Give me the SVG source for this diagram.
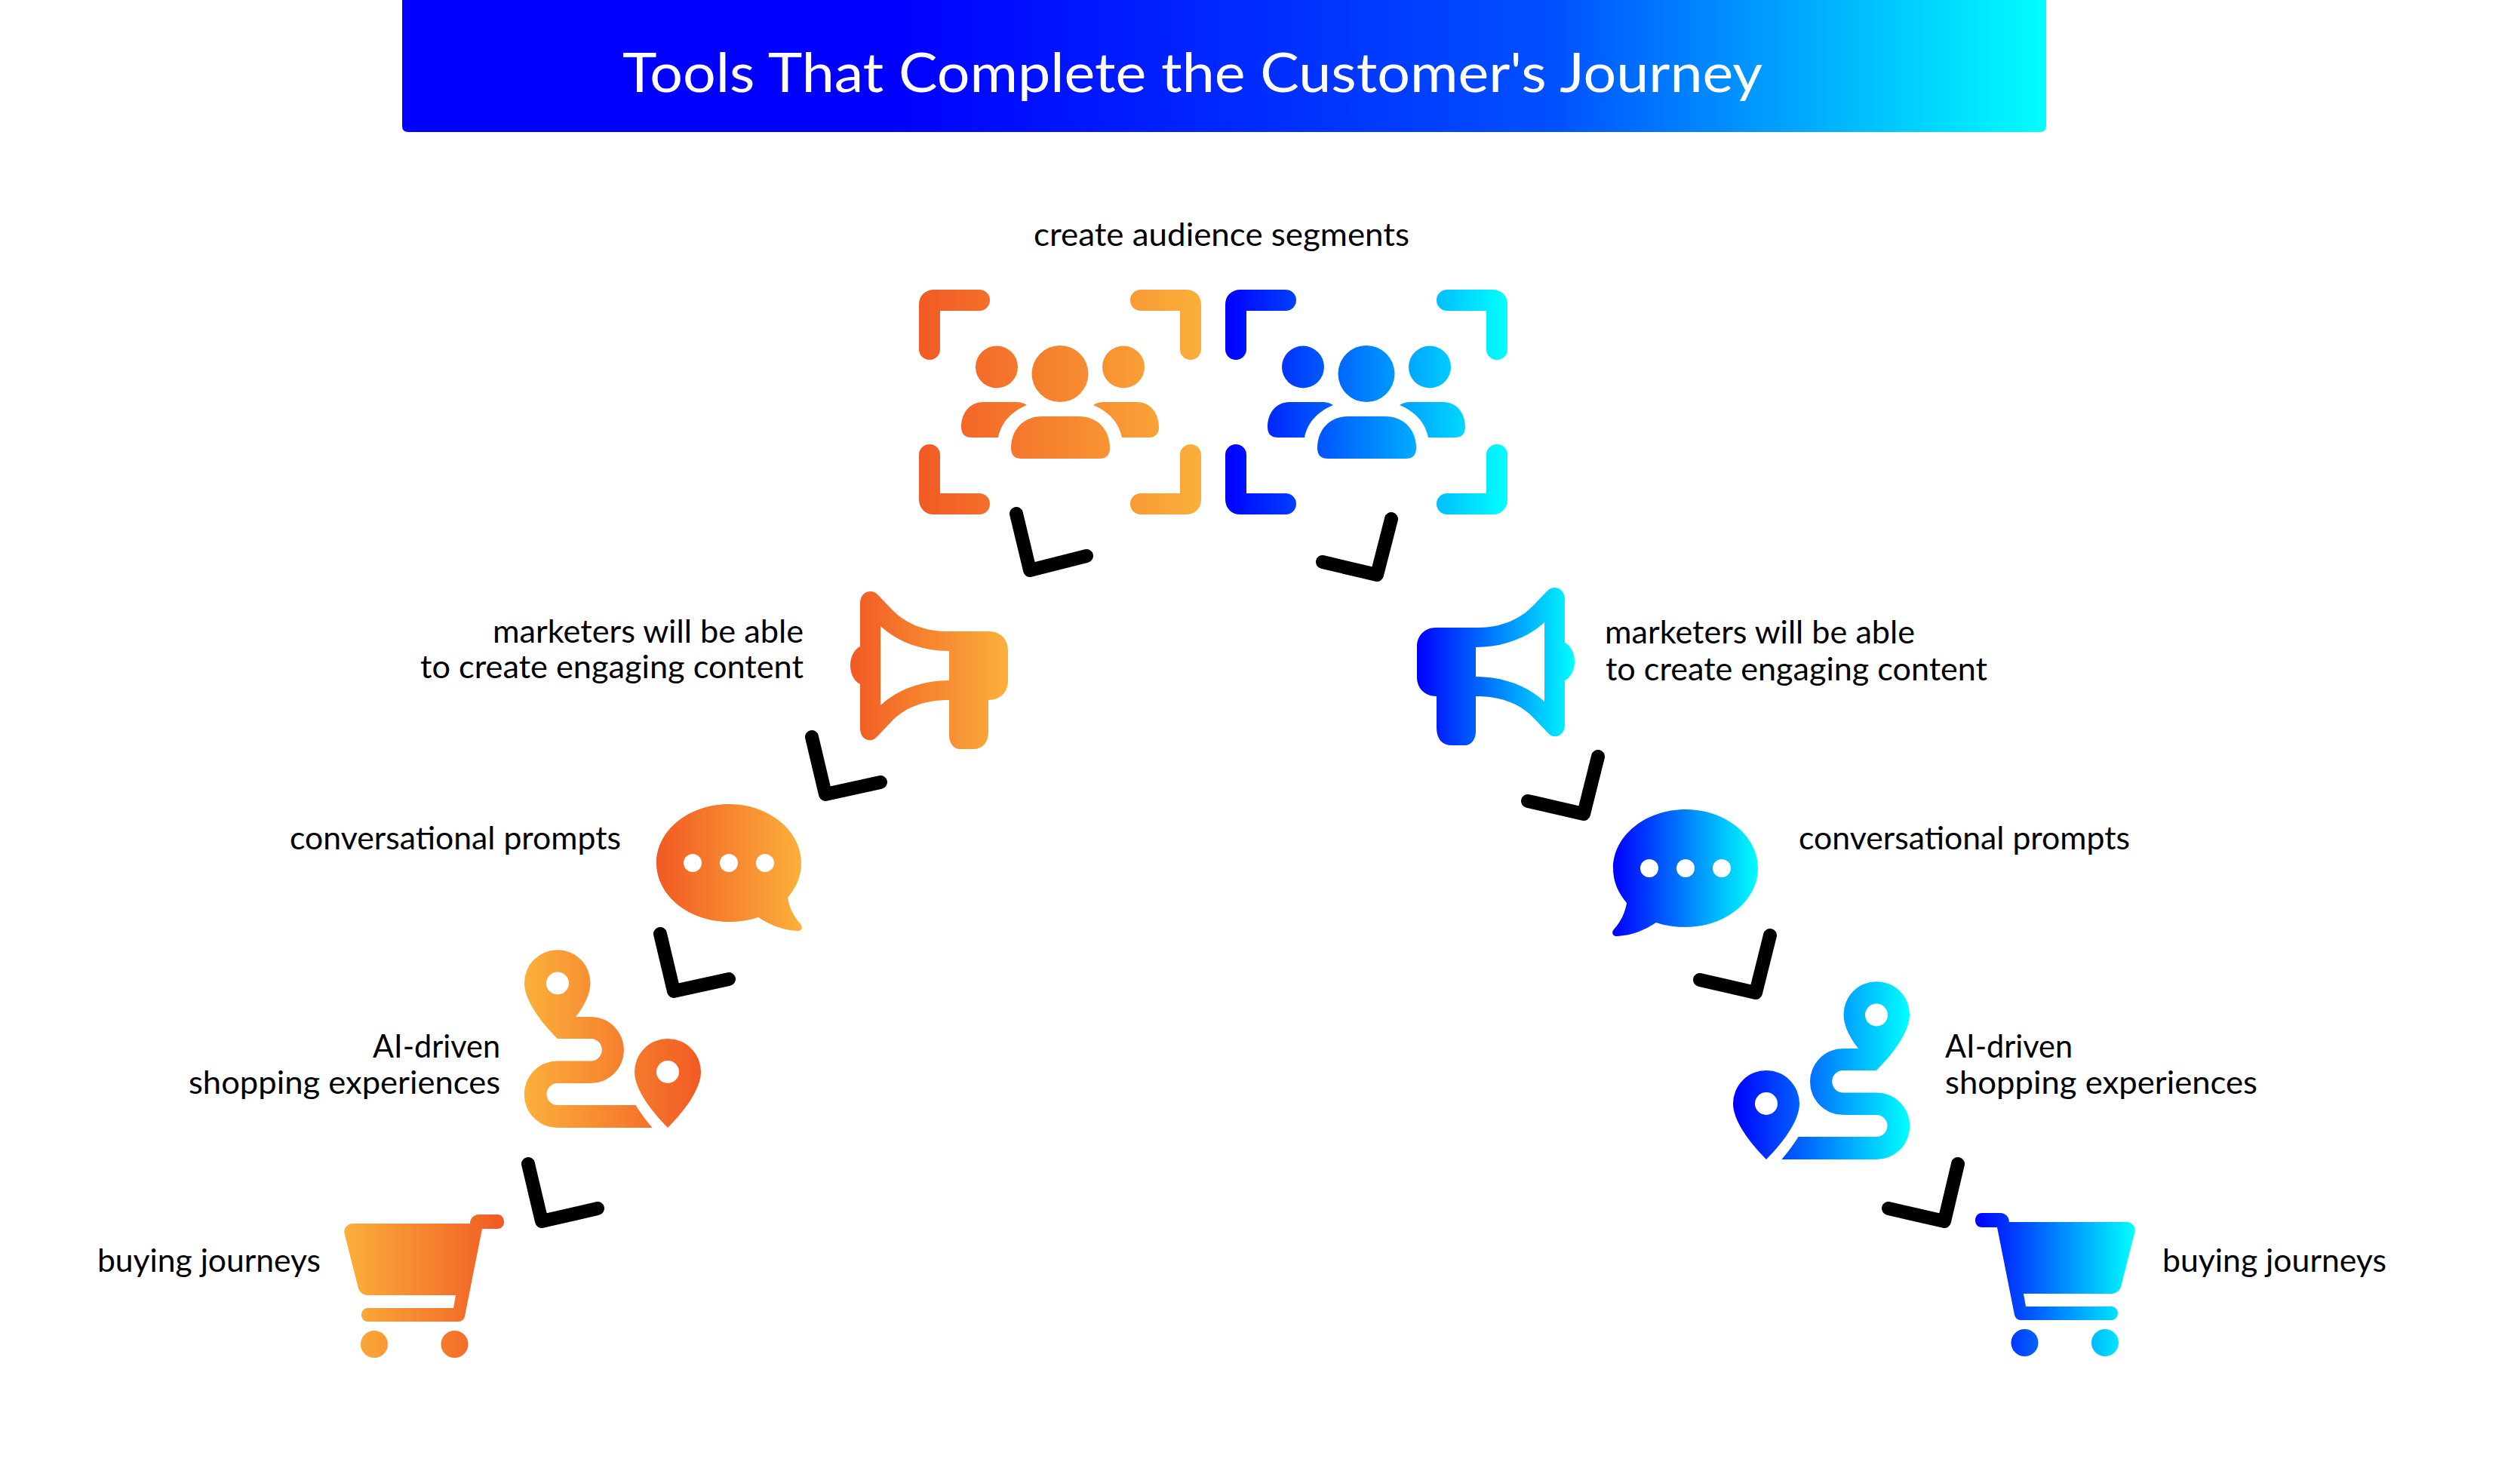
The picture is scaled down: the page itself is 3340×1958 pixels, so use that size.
<svg xmlns="http://www.w3.org/2000/svg" xmlns:xlink="http://www.w3.org/1999/xlink" width="3340" height="1958" viewBox="0 0 3340 1958">
<style>
text{font-family:"Lato","Liberation Sans",sans-serif;fill:#000;font-size:43px}
.t{font-size:72px;fill:#fff}
.c{fill:none;stroke:#000;stroke-width:18;stroke-linecap:round;stroke-linejoin:round}
.br{fill:none;stroke-width:28;stroke-linecap:round;stroke-linejoin:miter}
.w{fill:#fff}
</style>
<defs>
<linearGradient id="oS"><stop offset="0" stop-color="#f15a24"/><stop offset="1" stop-color="#fbb03b"/></linearGradient>
<linearGradient id="bS"><stop offset="0" stop-color="#0000ff"/><stop offset="1" stop-color="#00ffff"/></linearGradient>
<linearGradient id="title" gradientUnits="userSpaceOnUse" x1="533" x2="2712" y1="0" y2="0"><stop offset="0" stop-color="#0000ff"/><stop offset="0.3" stop-color="#0000ff"/><stop offset="0.7" stop-color="#0050ff"/><stop offset="1" stop-color="#00ffff"/></linearGradient>
<linearGradient id="gPplO" href="#oS" gradientUnits="userSpaceOnUse" x1="1218" x2="1592" y1="0" y2="0"/>
<linearGradient id="gPplB" href="#bS" gradientUnits="userSpaceOnUse" x1="1218" x2="1592" y1="0" y2="0"/>
<linearGradient id="gMegO" href="#oS" gradientUnits="userSpaceOnUse" x1="1127" x2="1336" y1="0" y2="0"/>
<linearGradient id="gMegB" href="#bS" gradientUnits="userSpaceOnUse" x1="1336" x2="1127" y1="0" y2="0"/>
<linearGradient id="gBubO" href="#oS" gradientUnits="userSpaceOnUse" x1="870" x2="1062" y1="0" y2="0"/>
<linearGradient id="gBubB" href="#bS" gradientUnits="userSpaceOnUse" x1="1062" x2="870" y1="0" y2="0"/>
<linearGradient id="gRouO" href="#oS" gradientUnits="userSpaceOnUse" x1="929" x2="695" y1="0" y2="0"/>
<linearGradient id="gRouB" href="#bS" gradientUnits="userSpaceOnUse" x1="929" x2="695" y1="0" y2="0"/>
<linearGradient id="gCarO" href="#oS" gradientUnits="userSpaceOnUse" x1="668" x2="456" y1="0" y2="0"/>
<linearGradient id="gCarB" href="#bS" gradientUnits="userSpaceOnUse" x1="668" x2="456" y1="0" y2="0"/>
<g id="ppl">
<path class="br" style="stroke:inherit" d="M1232 463V404Q1232 398 1238 398H1298M1512 398H1572Q1578 398 1578 404V463M1232 603V662Q1232 668 1238 668H1298M1512 668H1572Q1578 668 1578 662V603"/>
<g stroke="none">
<circle cx="1405" cy="495.500" r="37.500"/><circle cx="1321" cy="486.500" r="28"/><circle cx="1489" cy="486.500" r="28"/>
<path d="M1354 608H1457Q1471 608 1471 594C1471 570 1455 552 1430 552H1381C1356 552 1340 570 1340 594Q1340 608 1354 608Z"/>
<path d="M1323 580C1327 560 1340 546 1361 537Q1355 533 1347 533H1303C1285 533 1274 548 1274 566Q1274 580 1288 580Z"/>
<path d="M1487 580C1483 560 1470 546 1449 537Q1455 533 1463 533H1507C1525 533 1536 548 1536 566Q1536 580 1522 580Z"/>
</g>
</g>
<path id="meg" fill-rule="evenodd" d="M1140 800C1140 784 1155 780 1163 788L1183 809C1200 826 1225 837 1254 837H1311C1326 837 1336 848 1336 862V903C1336 917 1326 928 1310 928V970C1310 985 1302 993 1290 993H1272C1264 993 1258 985 1258 975V928C1228 928 1202 936 1183 955L1163 976C1155 986 1140 981 1140 966V907C1132 903 1127 893 1127 882C1127 871 1132 861 1140 857ZM1167 830V935C1190 914 1222 902 1258 902V863C1222 863 1190 851 1167 830Z"/>
<g id="bub"><path d="M966 1066C1019 1066 1062 1101 1062 1144C1062 1162 1055 1177 1044 1190C1046 1203 1052 1215 1061 1225C1065 1230 1062 1235 1056 1234C1037 1233 1020 1226 1005 1216C993 1220 980 1222 966 1222C913 1222 870 1187 870 1144C870 1101 913 1066 966 1066Z"/>
<circle class="w" cx="918" cy="1144" r="12"/><circle class="w" cx="966" cy="1144" r="12"/><circle class="w" cx="1014" cy="1144" r="12"/></g>
<g id="rou"><path d="M739 1377C715 1353 695 1325 695 1303A43.750 43.750 0 0 1 782.500 1303C782.500 1318 774 1334 763 1348H783A44 44 0 0 1 783 1436H739A14.500 14.500 0 0 0 739 1465H842.500C848 1474 856 1485 864.600 1495H739A44.250 44.250 0 0 1 739 1406.500H783A14.750 14.750 0 0 0 783 1377Z"/>
<path d="M885 1495C862 1472 841 1443 841 1421A44 44 0 0 1 929 1421C929 1443 908 1472 885 1495Z"/>
<circle class="w" cx="739" cy="1303.500" r="15"/><circle class="w" cx="885" cy="1421" r="15"/></g>
<g id="car"><path d="M468 1622H623C623 1615 628 1610 635 1610H659C665 1610 668 1615 668 1619.500C668 1625 665 1629 659 1629H639L616 1745C615 1749 612 1752 608 1752H487C483 1752 479 1748 479 1743C479 1738 483 1734 487 1734H601L604 1717H487C483 1717 477 1714 475 1708L456.500 1635C455 1628 461 1622 468 1622Z"/>
<circle cx="496" cy="1782" r="18"/><circle cx="602.500" cy="1782" r="18"/></g>
</defs>
<rect width="3340" height="1958" fill="#fff"/>
<g id="connectors">
<path class="c" d="M1347 681L1365 756L1440 737"/>
<path class="c" d="M1844 688L1825 762L1753 745"/>
<path class="c" d="M1076 977L1094 1053L1167 1037"/>
<path class="c" d="M875 1238L893 1314L966 1298"/>
<path class="c" d="M700 1543L718 1619L792 1602"/>
<path class="c" d="M2118 1003L2099 1079L2025 1062"/>
<path class="c" d="M2346 1240L2327 1316L2253 1299"/>
<path class="c" d="M2595 1543L2577 1619L2503 1602"/>
</g>
<g id="title-bar">
<path fill="url(#title)" d="M533 0H2712V167Q2712 175 2704 175H541Q533 175 533 167Z"/>
<text class="t" x="825" y="122" textLength="1511" lengthAdjust="spacingAndGlyphs">Tools That Complete the Customer's Journey</text>
</g>
<g id="segments-label"><text x="1370" y="326" textLength="498" lengthAdjust="spacingAndGlyphs">create audience segments</text></g>
<g id="people-orange"><use href="#ppl" fill="url(#gPplO)" stroke="url(#gPplO)"/></g>
<g id="people-blue"><use href="#ppl" transform="translate(406 0)" fill="url(#gPplB)" stroke="url(#gPplB)"/></g>
<g id="megaphone-left"><use href="#meg" fill="url(#gMegO)"/>
<text x="653" y="852" textLength="412" lengthAdjust="spacingAndGlyphs">marketers will be able</text>
<text x="557" y="899" textLength="508" lengthAdjust="spacingAndGlyphs">to create engaging content</text></g>
<g id="megaphone-right"><use href="#meg" transform="translate(3214 -5) scale(-1 1)" fill="url(#gMegB)"/>
<text x="2127" y="853" textLength="411" lengthAdjust="spacingAndGlyphs">marketers will be able</text>
<text x="2128" y="902" textLength="506" lengthAdjust="spacingAndGlyphs">to create engaging content</text></g>
<g id="bubble-left"><use href="#bub" fill="url(#gBubO)"/>
<text x="384" y="1126" textLength="439" lengthAdjust="spacingAndGlyphs">conversational prompts</text></g>
<g id="bubble-right"><use href="#bub" transform="translate(3200 7) scale(-1 1)" fill="url(#gBubB)"/>
<text x="2384" y="1126" textLength="439" lengthAdjust="spacingAndGlyphs">conversational prompts</text></g>
<g id="route-left"><use href="#rou" fill="url(#gRouO)"/>
<text x="494" y="1402" textLength="169" lengthAdjust="spacingAndGlyphs">AI-driven</text>
<text x="250" y="1450" textLength="413" lengthAdjust="spacingAndGlyphs">shopping experiences</text></g>
<g id="route-right"><use href="#rou" transform="translate(3226 42) scale(-1 1)" fill="url(#gRouB)"/>
<text x="2578" y="1402" textLength="169" lengthAdjust="spacingAndGlyphs">AI-driven</text>
<text x="2578" y="1450" textLength="414" lengthAdjust="spacingAndGlyphs">shopping experiences</text></g>
<g id="cart-left"><use href="#car" fill="url(#gCarO)"/>
<text x="129" y="1686" textLength="296" lengthAdjust="spacingAndGlyphs">buying journeys</text></g>
<g id="cart-right"><use href="#car" transform="translate(3286 -2) scale(-1 1)" fill="url(#gCarB)"/>
<text x="2866" y="1686" textLength="297" lengthAdjust="spacingAndGlyphs">buying journeys</text></g>
</svg>
